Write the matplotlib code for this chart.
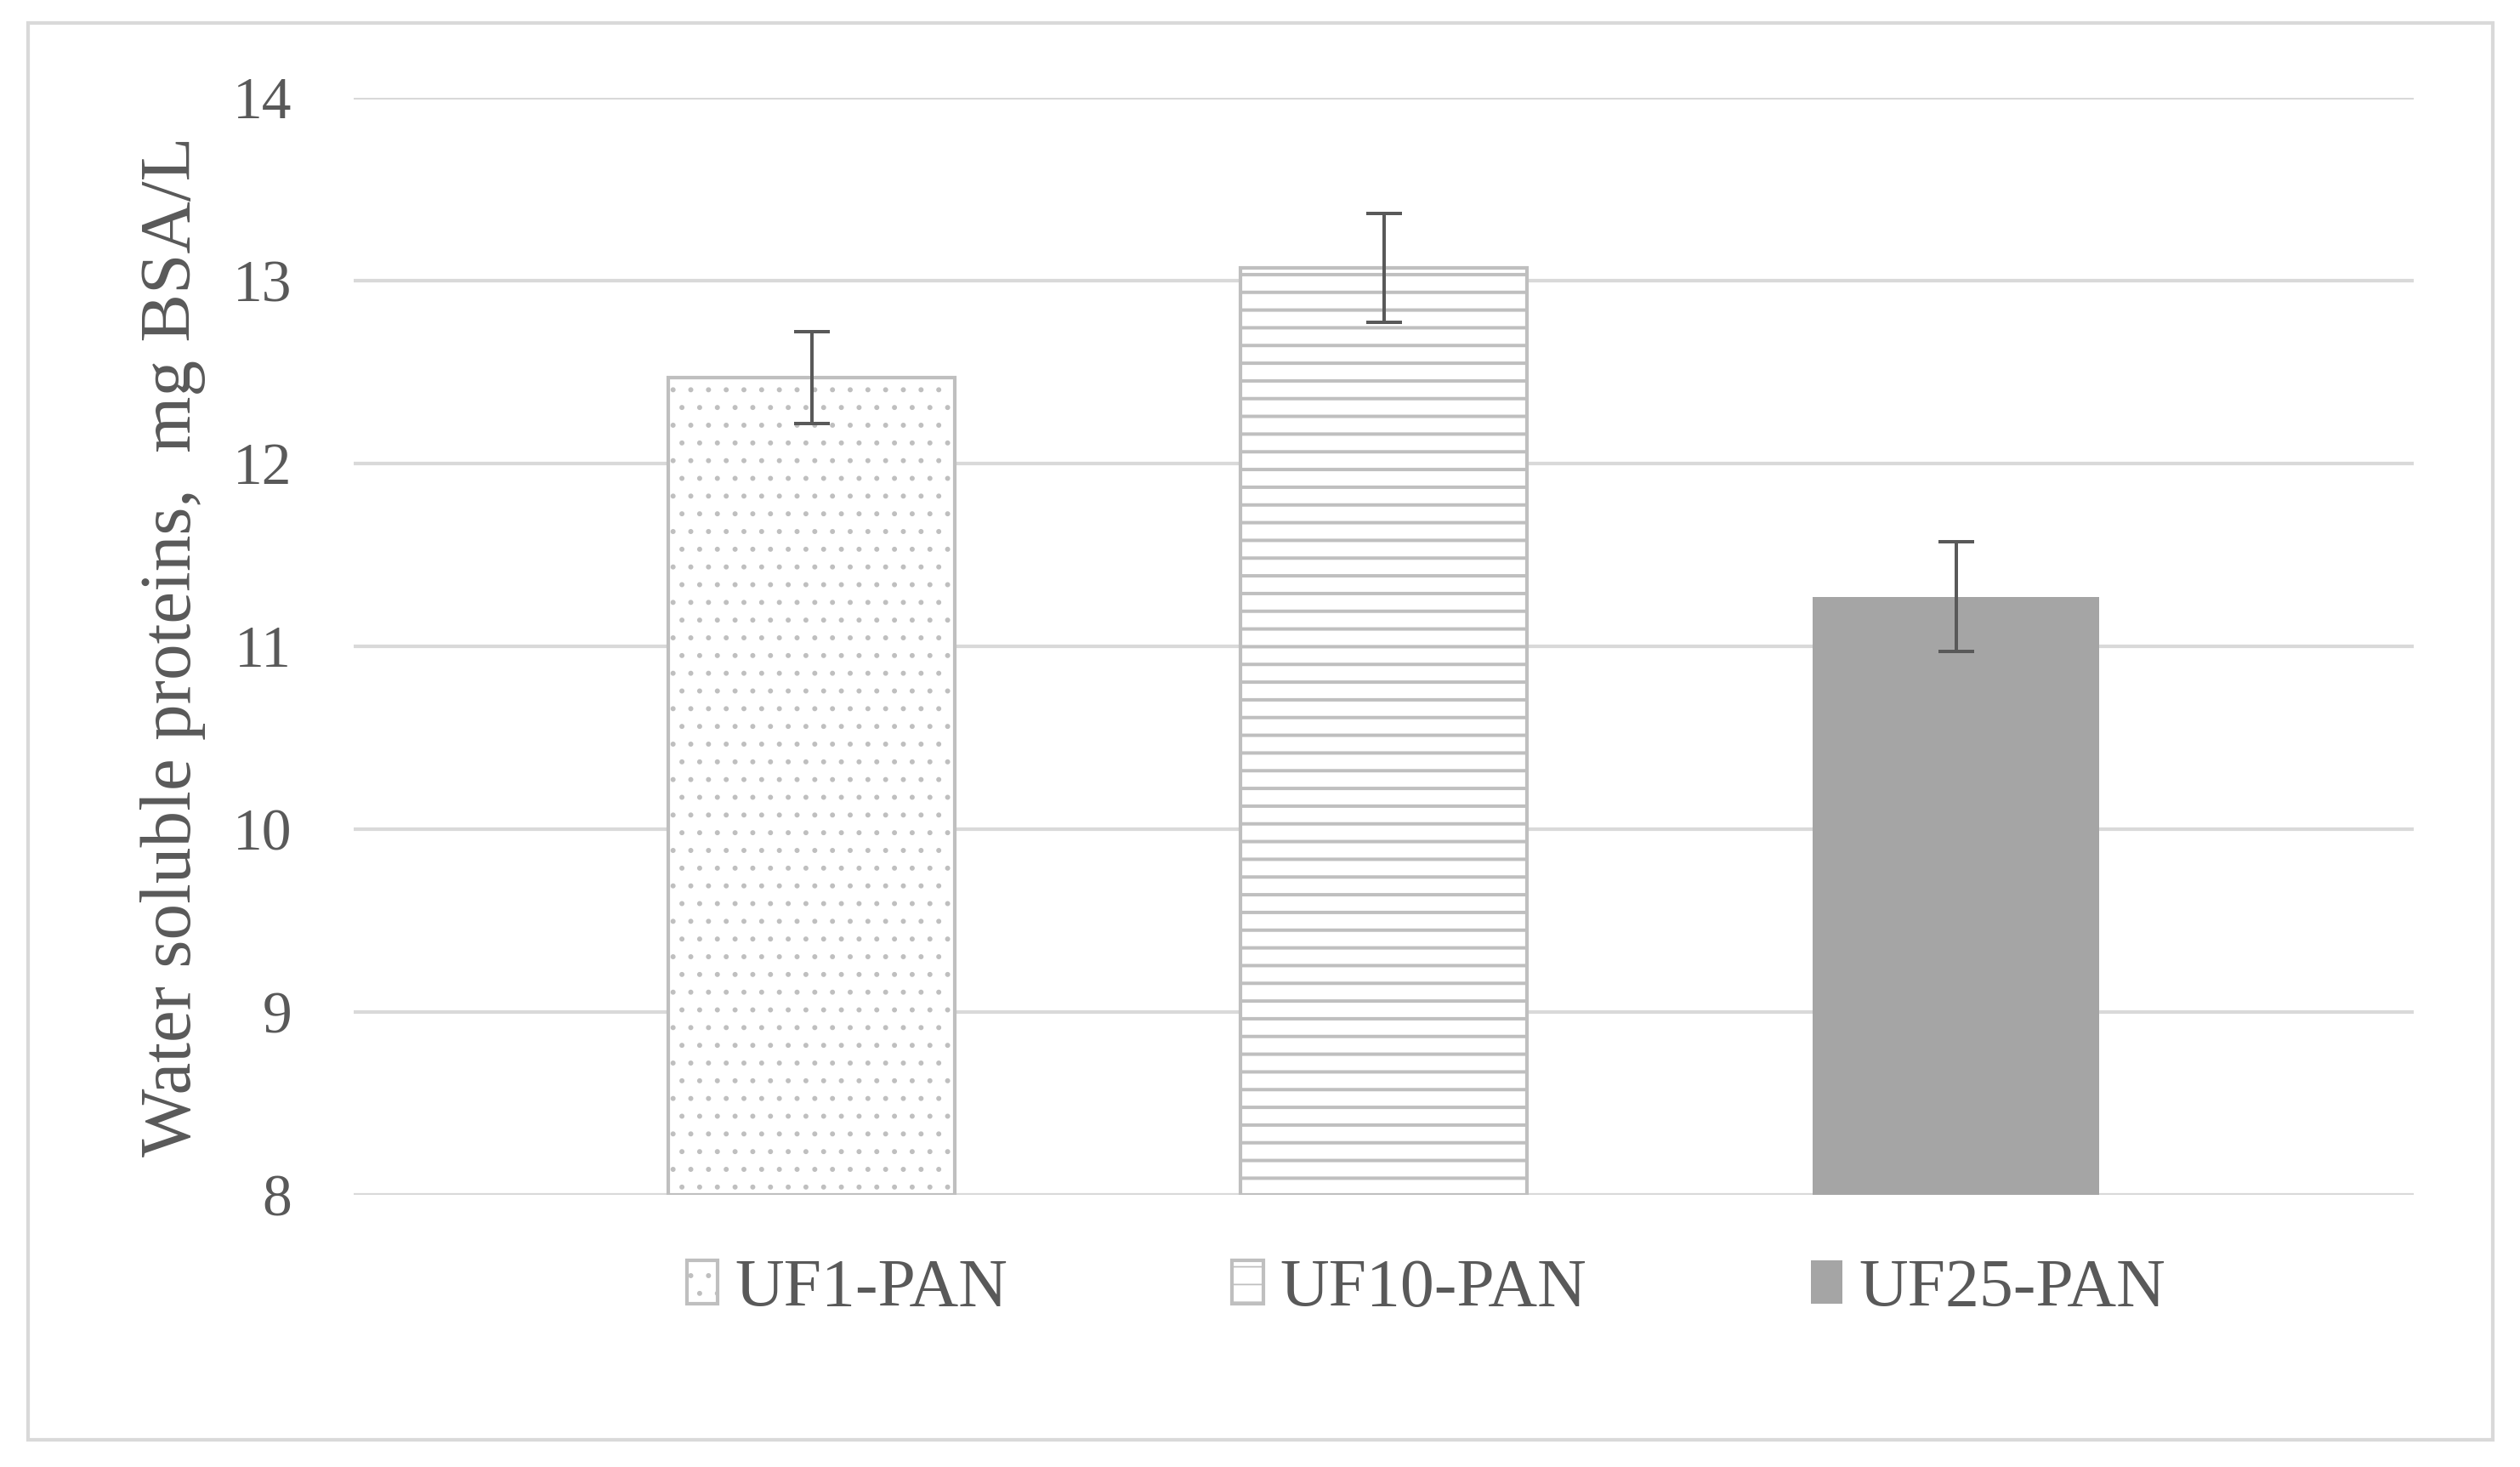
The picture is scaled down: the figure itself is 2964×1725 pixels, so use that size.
import numpy as np
import matplotlib
matplotlib.use('Agg')
import matplotlib.pyplot as plt
from matplotlib.patches import Patch, Rectangle

# data
categories = ['UF1-PAN', 'UF10-PAN', 'UF25-PAN']
protein_mean = [12.47, 13.07, 11.27]
protein_err = [0.25, 0.30, 0.30]
y_ticks = [8, 9, 10, 11, 12, 13, 14]

hatches = ['.', '-', None]
faces = ['white', 'white', '#a5a5a5']
edges = ['#bfbfbf', '#bfbfbf', 'none']

DPI = 125
plt.rcParams['font.family'] = ['Liberation Serif', 'DejaVu Serif']
plt.rcParams['hatch.color'] = '#bfbfbf'

fig = plt.figure(figsize=(2964 / DPI, 1725 / DPI), dpi=DPI)
ax = fig.add_axes([0.1404, 0.1855, 0.9578 - 0.1404, 0.9333 - 0.1855])

x = np.arange(len(categories))
for i, name in enumerate(categories):
    hlw = 1.0 if hatches[i] == '.' else 2.3
    with plt.rc_context({'hatch.linewidth': hlw}):
        ax.bar(x[i], protein_mean[i] - 8, bottom=8, width=0.5,
               color=faces[i], edgecolor=edges[i], linewidth=2.4,
               hatch=hatches[i], zorder=2)

ax.errorbar(x, protein_mean, yerr=protein_err, fmt='none', ecolor='#595959',
            elinewidth=2.3, capsize=12, capthick=2.3, zorder=3)

ax.set_xlim(-0.8, 2.8)
ax.set_ylim(8, 14)
ax.set_yticks(y_ticks)
ax.set_xticks([])
ax.yaxis.grid(True, color='#d9d9d9', linewidth=2.4, zorder=0)
ax.set_axisbelow(True)
for s in ax.spines.values():
    s.set_visible(False)
ax.tick_params(axis='y', length=0, pad=42, labelsize=40, labelcolor='#595959')

ax.set_ylabel('Water soluble proteins,  mg BSA/L', fontsize=49, color='#595959')
ax.yaxis.set_label_coords(-0.072, 0.5)

# legend
handles = []
for i, name in enumerate(categories):
    hlw = 1.0 if hatches[i] == '.' else 2.3
    with plt.rc_context({'hatch.linewidth': hlw}):
        handles.append(Patch(facecolor=faces[i], edgecolor=edges[i],
                             linewidth=2.4, hatch=hatches[i], label=name))
fig.legend(handles=handles, loc='center', bbox_to_anchor=(0.566, 0.121),
           ncol=3, frameon=False, fontsize=46, labelcolor='#595959',
           handlelength=0.46, handleheight=0.6, handletextpad=0.25,
           columnspacing=3.3)

# outer chart border
fig.patches.append(Rectangle((33 / 2964, 1 - 1693 / 1725), (2932 - 33) / 2964,
                             (1693 - 27) / 1725, transform=fig.transFigure,
                             fill=False, edgecolor='#d9d9d9', linewidth=2.4))

fig.savefig('out.png', dpi=DPI, facecolor='white')
